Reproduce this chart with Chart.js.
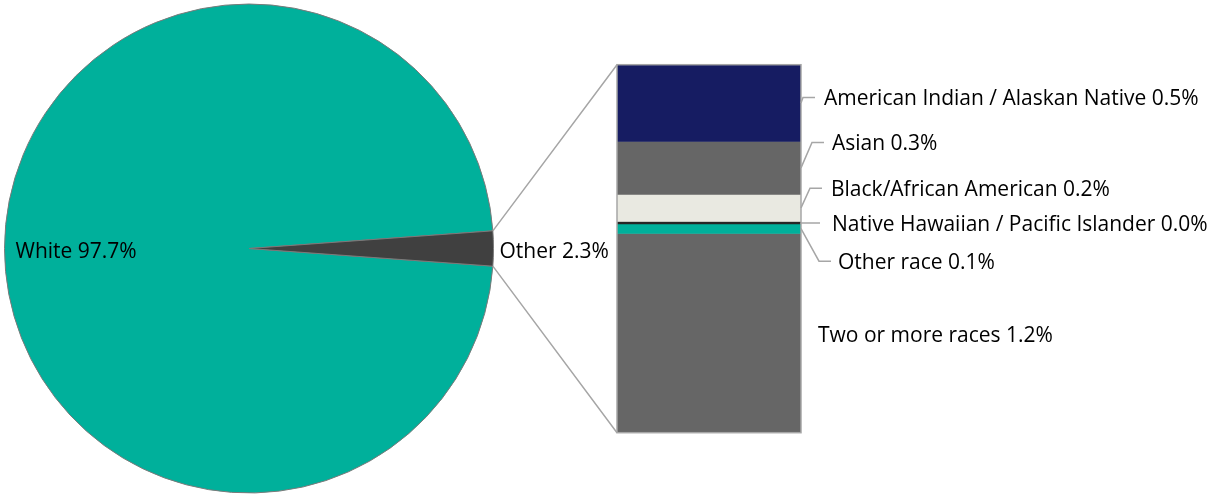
<!DOCTYPE html>
<html>
<head>
<meta charset="utf-8">
<script src="https://cdn.jsdelivr.net/npm/chart.js@4.4.1/dist/chart.umd.min.js"></script>
<style>
html, body { margin: 0; padding: 0; background: #ffffff; }
#wrap { position: relative; width: 1212px; height: 494px; overflow: hidden; }
#wrap canvas { position: absolute; left: 0; top: 0; }
</style>
</head>
<body>
<div id="wrap">
  <canvas id="pieCanvas" width="1212" height="494"></canvas>
  <canvas id="barCanvas" width="1212" height="494"></canvas>
</div>
<script>
// ---------------- DATA ----------------
const pieCategories = ['White', 'Other'];
const pieValues = [97.7, 2.3];
const pieValueLabels = ['97.7%', '2.3%'];

const barCategories = [
  'American Indian / Alaskan Native',
  'Asian',
  'Black/African American',
  'Native Hawaiian / Pacific Islander',
  'Other race',
  'Two or more races'
];
const barValues = [0.48, 0.33, 0.17, 0.015, 0.06, 1.245];
const barValueLabels = ['0.5%', '0.3%', '0.2%', '0.0%', '0.1%', '1.2%'];

// ---------------- STYLE / LAYOUT ----------------
const pieColors = ['#00B09B', '#404040'];
const barColors = ['#161C62', '#666666', '#E9E9E1', '#262626', '#00B09B', '#666666'];
const FONT_SIZE = 21;
const FONT = FONT_SIZE + 'px "Open Sans", Lato, "Liberation Sans", sans-serif';
const TEXT_COLOR = '#000000';
const LINE_COLOR = '#A6A6A6';
// leader layout relative to each segment's right-edge midpoint
const leaderLayout = [
  { dy: -5.7,  elbow: 2,    end: 14,   text: 23 },
  { dy: -25.5, elbow: 11,   end: 23,   text: 31 },
  { dy: -19.7, elbow: 9,    end: 21,   text: 30 },
  { dy: 0.3,   elbow: 0,    end: 19,   text: 31 },
  { dy: 32.5,  elbow: 18,   end: 30,   text: 37 },
  { dy: 1,     elbow: null, end: null, text: 17 }
];

function drawCapText(ctx, text, x, yMid) {
  ctx.save();
  ctx.font = FONT;
  ctx.fillStyle = TEXT_COLOR;
  ctx.textAlign = 'left';
  ctx.textBaseline = 'alphabetic';
  const cap = ctx.measureText('H').actualBoundingBoxAscent || FONT_SIZE * 0.72;
  ctx.fillText(text, x, yMid + cap / 2);
  ctx.restore();
}

// ---------------- PIE ----------------
const pieTotal = pieValues.reduce((a, b) => a + b, 0);
const pieRotation = 90 + (pieValues[1] / pieTotal) * 180;

const pieLabelPlugin = {
  id: 'pieLabels',
  afterDatasetsDraw(chart) {
    const ctx = chart.ctx;
    const arcs = chart.getDatasetMeta(0).data;
    const a = arcs[0].getProps(['x', 'y', 'outerRadius'], true);
    drawCapText(ctx, pieCategories[0] + ' ' + pieValueLabels[0], a.x - a.outerRadius + 11, a.y + 1.5);
    drawCapText(ctx, pieCategories[1] + ' ' + pieValueLabels[1], a.x + a.outerRadius + 6, a.y + 1.5);
  }
};

const pieChart = new Chart(document.getElementById('pieCanvas'), {
  type: 'pie',
  data: {
    labels: pieCategories,
    datasets: [{
      data: pieValues,
      backgroundColor: pieColors,
      borderColor: '#7A7A7A',
      borderWidth: 1,
      hoverBorderWidth: 1
    }]
  },
  options: {
    responsive: false,
    animation: false,
    devicePixelRatio: 1,
    events: [],
    rotation: pieRotation,
    layout: { padding: { left: 4, right: 718, top: 3.5, bottom: 0.5 } },
    plugins: { legend: { display: false }, tooltip: { enabled: false } }
  },
  plugins: [pieLabelPlugin]
});

// ---------------- BAR ----------------
const barTotal = barValues.reduce((a, b) => a + b, 0);

const barDecorPlugin = {
  id: 'barDecor',
  afterDatasetsDraw(chart) {
    const ctx = chart.ctx;
    const els = chart.data.datasets.map((d, i) => chart.getDatasetMeta(i).data[0]);
    const first = els[0], last = els[els.length - 1];
    const left = first.x - first.width / 2;
    const right = first.x + first.width / 2;
    const top = Math.min(first.y, first.base);
    const bottom = Math.max(last.y, last.base);

    ctx.save();
    ctx.strokeStyle = LINE_COLOR;
    ctx.lineWidth = 1.5;
    ctx.strokeRect(left, top, right - left, bottom - top);

    // connector lines from the pie's "Other" slice to the bar
    const arc = pieChart.getDatasetMeta(0).data[1].getProps(['x', 'y', 'startAngle', 'endAngle', 'outerRadius'], true);
    const R = arc.outerRadius;
    ctx.beginPath();
    ctx.moveTo(arc.x + R * Math.cos(arc.startAngle), arc.y + R * Math.sin(arc.startAngle));
    ctx.lineTo(left, top);
    ctx.moveTo(arc.x + R * Math.cos(arc.endAngle), arc.y + R * Math.sin(arc.endAngle));
    ctx.lineTo(left, bottom);
    ctx.stroke();

    // leader lines and labels
    els.forEach((el, i) => {
      const L = leaderLayout[i];
      const cy = (el.y + el.base) / 2;
      const ly = cy + L.dy;
      if (L.elbow !== null) {
        ctx.beginPath();
        ctx.moveTo(right, cy);
        ctx.lineTo(right + L.elbow, ly);
        ctx.lineTo(right + L.end, ly);
        ctx.stroke();
      }
      drawCapText(ctx, barCategories[i] + ' ' + barValueLabels[i], right + L.text, ly);
    });
    ctx.restore();
  }
};

new Chart(document.getElementById('barCanvas'), {
  type: 'bar',
  data: {
    labels: ['Other'],
    datasets: barCategories.map((name, i) => ({
      label: name,
      data: [barValues[i]],
      backgroundColor: barColors[i],
      borderWidth: 0,
      barPercentage: 1,
      categoryPercentage: 1
    }))
  },
  options: {
    responsive: false,
    animation: false,
    devicePixelRatio: 1,
    events: [],
    layout: { padding: { left: 617, right: 411, top: 64.7, bottom: 61.3 } },
    scales: {
      x: { stacked: true, display: false },
      y: { stacked: true, display: false, reverse: true, min: 0, max: barTotal }
    },
    plugins: { legend: { display: false }, tooltip: { enabled: false } }
  },
  plugins: [barDecorPlugin]
});
</script>
</body>
</html>
